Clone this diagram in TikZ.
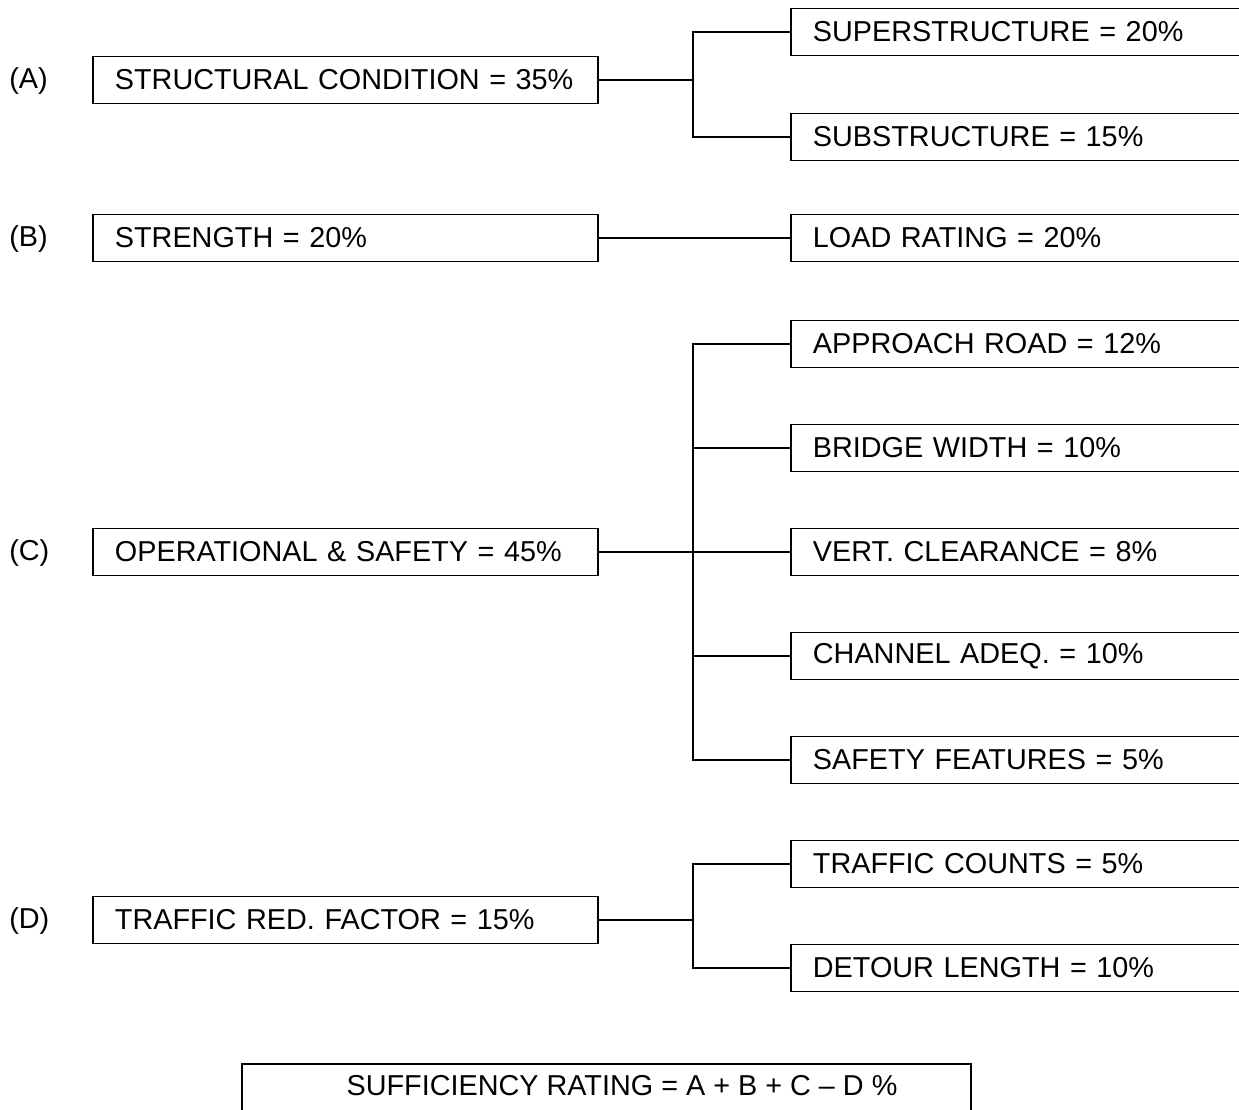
\documentclass[tikz,border=0pt]{standalone}
\usepackage{fontspec}
\setmainfont{Liberation Sans}
\begin{document}
\begin{tikzpicture}[x=0.75pt,y=-0.75pt,
  every node/.style={font=\fontsize{21.6}{25}\selectfont},
  lbox/.style={draw, line width=1.4pt, anchor=west, minimum height=35.25pt, text width=346pt, inner xsep=16.5pt, inner ysep=0pt, align=left},
  rbox/.style={draw, line width=1.4pt, anchor=west, minimum height=35.25pt, text width=346pt, inner xsep=16.5pt, inner ysep=0pt, align=left},
  tag/.style={anchor=west, inner sep=0pt},
  conn/.style={line width=1.4pt}]
\useasboundingbox (0,0) rectangle (1239,1110);
\clip (0,0) rectangle (1239,1110);
% labels
\node[tag] (la) at (9,81) {(A)};
\node[tag] (lb) at (9,239) {(B)};
\node[tag] (lc) at (9,553) {(C)};
\node[tag] (ld) at (9,921) {(D)};
% left boxes
\node[lbox] (A) at (92,80) {STRUCTURAL CONDITION = 35\%};
\node[lbox] (B) at (92,238) {STRENGTH = 20\%};
\node[lbox] (C) at (92,552) {OPERATIONAL \& SAFETY = 45\%};
\node[lbox] (D) at (92,920) {TRAFFIC RED. FACTOR = 15\%};
% right boxes
\node[rbox] (a1) at (790,32) {SUPERSTRUCTURE = 20\%};
\node[rbox] (a2) at (790,137) {SUBSTRUCTURE = 15\%};
\node[rbox] (b1) at (790,238) {LOAD RATING = 20\%};
\node[rbox] (c1) at (790,344) {APPROACH ROAD = 12\%};
\node[rbox] (c2) at (790,448) {BRIDGE WIDTH = 10\%};
\node[rbox] (c3) at (790,552) {VERT. CLEARANCE = 8\%};
\node[rbox] (c4) at (790,656) {CHANNEL ADEQ. = 10\%};
\node[rbox] (c5) at (790,760) {SAFETY FEATURES = 5\%};
\node[rbox] (d1) at (790,864) {TRAFFIC COUNTS = 5\%};
\node[rbox] (d2) at (790,968) {DETOUR LENGTH = 10\%};
% bottom box
\node[draw, line width=1.4pt, anchor=north west, minimum width=547pt, minimum height=60pt, inner sep=0pt] (S) at (241,1063) {};
\node[inner sep=0pt] (st) at (622,1086) {SUFFICIENCY RATING = A + B + C -- D \%};
% junctions
\coordinate (ja) at (693,80);
\coordinate (jc) at (693,552);
\coordinate (jd) at (693,920);
% connectors
\draw[conn] (A.east) -- (ja);
\draw[conn] (ja) |- (a1.west);
\draw[conn] (ja) |- (a2.west);
\draw[conn] (B.east) -- (b1.west);
\draw[conn] (C.east) -- (jc);
\draw[conn] (jc) |- (c1.west);
\draw[conn] (jc) |- (c2.west);
\draw[conn] (jc) -- (c3.west);
\draw[conn] (jc) |- (c4.west);
\draw[conn] (jc) |- (c5.west);
\draw[conn] (D.east) -- (jd);
\draw[conn] (jd) |- (d1.west);
\draw[conn] (jd) |- (d2.west);
\end{tikzpicture}
\end{document}
